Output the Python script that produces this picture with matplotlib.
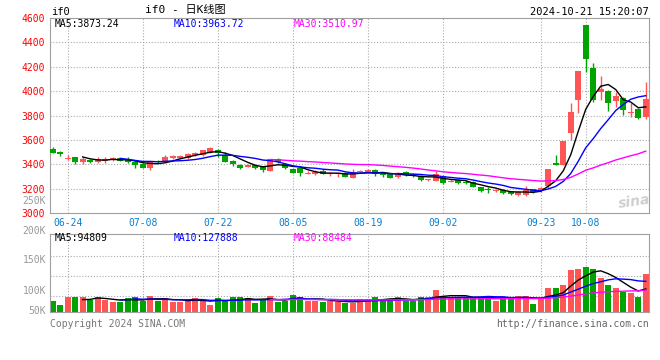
import numpy as np
import pandas as pd
import matplotlib
matplotlib.use('Agg')
import matplotlib.pyplot as plt

#%% data (IF0 daily K line)
holidays = ['2024-09-16', '2024-09-17', '2024-10-01', '2024-10-02',
            '2024-10-03', '2024-10-04', '2024-10-07']
days = pd.bdate_range('2024-06-20', '2024-10-18')
days = days[~days.isin(pd.to_datetime(holidays))]
day_labels = list(days.strftime('%m-%d'))

opens = [3525, 3503, 3441, 3457, 3418, 3435, 3418, 3424, 3438, 3449,
         3443, 3416, 3399, 3372, 3427, 3430, 3451, 3449, 3451, 3476,
         3473, 3495, 3517, 3476, 3427, 3394, 3378, 3394, 3380, 3345,
         3443, 3402, 3361, 3372, 3323, 3323, 3345, 3317, 3317, 3328,
         3290, 3338, 3336, 3353, 3320, 3320, 3292, 3336, 3320, 3306,
         3268, 3265, 3304, 3258, 3271, 3258, 3256, 3211, 3195, 3178,
         3189, 3172, 3150, 3148, 3195, 3178, 3224, 3412, 3394, 3654,
         3927, 4543, 4193, 3995, 4001, 3921, 3941, 3818, 3851, 3790]
highs = [3539, 3511, 3478, 3462, 3462, 3446, 3459, 3462, 3459, 3454,
         3462, 3435, 3408, 3427, 3432, 3473, 3473, 3473, 3495, 3500,
         3520, 3539, 3522, 3498, 3435, 3402, 3402, 3397, 3389, 3443,
         3449, 3408, 3372, 3378, 3345, 3350, 3361, 3339, 3339, 3339,
         3361, 3353, 3361, 3358, 3328, 3325, 3334, 3345, 3325, 3312,
         3279, 3347, 3315, 3275, 3275, 3268, 3263, 3216, 3213, 3195,
         3195, 3178, 3180, 3222, 3200, 3213, 3362, 3476, 3593, 3900,
         4168, 4543, 4229, 4124, 4009, 3995, 3954, 3900, 3859, 4077]
lows = [3495, 3470, 3438, 3404, 3404, 3413, 3410, 3413, 3430, 3430,
        3410, 3372, 3367, 3356, 3410, 3430, 3446, 3443, 3443, 3468,
        3468, 3495, 3462, 3421, 3383, 3361, 3378, 3364, 3340, 3345,
        3408, 3361, 3328, 3306, 3317, 3312, 3317, 3301, 3298, 3293,
        3284, 3334, 3330, 3306, 3298, 3285, 3290, 3304, 3298, 3265,
        3263, 3260, 3240, 3254, 3238, 3240, 3210, 3170, 3165, 3170,
        3155, 3148, 3142, 3140, 3165, 3172, 3208, 3394, 3394, 3599,
        3823, 4161, 3913, 3927, 3840, 3867, 3804, 3790, 3769, 3769]
closes = [3495, 3487, 3454, 3418, 3446, 3418, 3441, 3446, 3449, 3430,
          3416, 3397, 3372, 3418, 3418, 3457, 3468, 3465, 3487, 3492,
          3517, 3533, 3490, 3421, 3400, 3372, 3394, 3372, 3356, 3441,
          3416, 3372, 3328, 3331, 3328, 3334, 3317, 3326, 3328, 3298,
          3334, 3345, 3353, 3320, 3312, 3290, 3325, 3310, 3304, 3271,
          3274, 3320, 3250, 3265, 3244, 3250, 3216, 3183, 3190, 3185,
          3162, 3153, 3172, 3189, 3172, 3205, 3358, 3397, 3593, 3831,
          4168, 4262, 3927, 4015, 3900, 3960, 3845, 3831, 3782, 3935]
# volume in thousand lots
volume_k = [46.6, 29.7, 60.6, 60.6, 60.6, 50.9, 60.6, 49.6, 43.7, 43.7,
            56.4, 60.6, 46.6, 64.9, 46.6, 56.4, 43.7, 43.7, 46.6, 56.4,
            50.9, 29.7, 56.4, 46.6, 60.6, 60.6, 56.4, 39.4, 50.9, 67.8,
            43.7, 46.6, 72.1, 60.6, 46.6, 46.6, 43.7, 46.6, 42.4, 39.4,
            39.4, 53.8, 53.8, 60.6, 50.9, 53.8, 60.6, 46.6, 46.6, 60.6,
            60.6, 93.3, 64.9, 60.6, 60.6, 60.6, 60.6, 60.6, 64.9, 46.6,
            60.6, 60.6, 67.8, 67.8, 35.2, 53.8, 98.8, 98.8, 114.5, 173.8,
            178.1, 186.6, 179.4, 139.9, 114.5, 98.8, 84.8, 79.3, 60.6, 156.9]

tick_days = ['06-24', '07-08', '07-22', '08-05', '08-19', '09-02', '09-23', '10-08']
price_ticks = [3000, 3200, 3400, 3600, 3800, 4000, 4200, 4400, 4600]
vol_labels = ['250K', '200K', '150K', '100K', '50K']

ma_text = ['MA5:3873.24', 'MA10:3963.72', 'MA30:3510.97']
vol_ma_text = ['MA5:94809', 'MA10:127888', 'MA30:88484']
symbol = 'if0'
title = 'if0 - 日K线图'
stamp = '2024-10-21 15:20:07'

#%% styles
RED = '#FF5555'
GREEN = '#00A400'
MA_COLORS = ['#000000', '#0000FF', '#FF00FF']
GRID = dict(color='#aaaaaa', lw=0.8, linestyle=(0, (1, 1.6)))
MONO = 'DejaVu Sans Mono'
plt.rcParams['font.family'] = [MONO, 'Noto Sans CJK SC']

o = np.array(opens, float)
h = np.array(highs, float)
l = np.array(lows, float)
c = np.array(closes, float)
vol = np.array(volume_k) * 1000
x = np.arange(len(c))
cols = np.where(c >= o, RED, GREEN)
tick_pos = [day_labels.index(d) for d in tick_days]

W, H = 660, 360
fig = plt.figure(figsize=(6.6, 3.6), dpi=100)
ax = fig.add_axes([50 / W, 147 / H, 599 / W, 195 / H])
axv = fig.add_axes([50 / W, 48 / H, 599 / W, 78 / H])

def px(xp, yp):
    return xp / W, 1 - yp / H

#%% price panel
for t in tick_pos:
    ax.axvline(t, **GRID, zorder=0)
for p in price_ticks[1:-1]:
    ax.axhline(p, **GRID, zorder=0)
ax.vlines(x, l, h, colors=cols, lw=1, zorder=2)
body = np.maximum(np.abs(c - o), 8)
ax.bar(x, body, bottom=np.minimum(o, c), width=0.8, color=cols, lw=0, zorder=3)
s = pd.Series(c)
for n, mc in zip([5, 10, 30], MA_COLORS):
    ax.plot(x, s.rolling(n).mean(), color=mc, lw=1.0, zorder=4)
ax.set_xlim(-0.35, 79.43)
ax.set_ylim(3000, 4600)
ax.set_yticks(price_ticks)
ax.set_yticklabels([str(p) for p in price_ticks], color='#FF0000', fontsize=7)
ax.set_xticks(tick_pos)
ax.set_xticklabels(tick_days, color='#0A7FD0', fontsize=7)
ax.tick_params(length=0, pad=3.5)
for sp in ax.spines.values():
    sp.set_color('#a0a0a0')
ax.text(0.975, 0.06, 'sina', transform=ax.transAxes, ha='center', va='center',
        fontsize=10, fontweight='bold', style='italic', color='#cfcfcf',
        rotation=8, family='DejaVu Sans', zorder=1)

#%% volume panel
for t in tick_pos:
    axv.axvline(t, **GRID, zorder=0)
for g in [65000, 150000, 234000]:
    axv.axhline(g, **GRID, zorder=0)
axv.bar(x, vol, width=0.8, color=cols, lw=0, zorder=2)
sv = pd.Series(vol)
for n, mc in zip([5, 10, 30], MA_COLORS):
    axv.plot(x, sv.rolling(n).mean(), color=mc, lw=1.0, zorder=3)
axv.set_xlim(-0.35, 79.43)
axv.set_ylim(0, 325000)
axv.set_xticks([])
axv.set_yticks([])
for sp in axv.spines.values():
    sp.set_color('#a0a0a0')

#%% texts
fig.text(*px(51, 12), symbol, fontsize=7.5, va='center', ha='left')
fig.text(*px(185, 10), title, fontsize=8, va='center', ha='center')
fig.text(*px(649, 12), stamp, fontsize=7.5, va='center', ha='right')
for t, xp, mc in zip(ma_text, [55, 174, 294], MA_COLORS):
    fig.text(*px(xp, 24), t, fontsize=7, color=mc, va='center', ha='left')
for t, xp, mc in zip(vol_ma_text, [55, 174, 294], MA_COLORS):
    fig.text(*px(xp, 238), t, fontsize=7, color=mc, va='center', ha='left')
for t, yp in zip(vol_labels, [201, 231, 260, 291, 311]):
    fig.text(*px(46, yp), t, fontsize=7, color='#999999', va='center', ha='right')
fig.text(*px(50, 324), 'Copyright 2024 SINA.COM', fontsize=7, color='#777777',
         va='center', ha='left')
fig.text(*px(649, 324), 'http://finance.sina.com.cn', fontsize=7, color='#666666',
         va='center', ha='right')

fig.savefig('out.png', dpi=100, facecolor='white')
